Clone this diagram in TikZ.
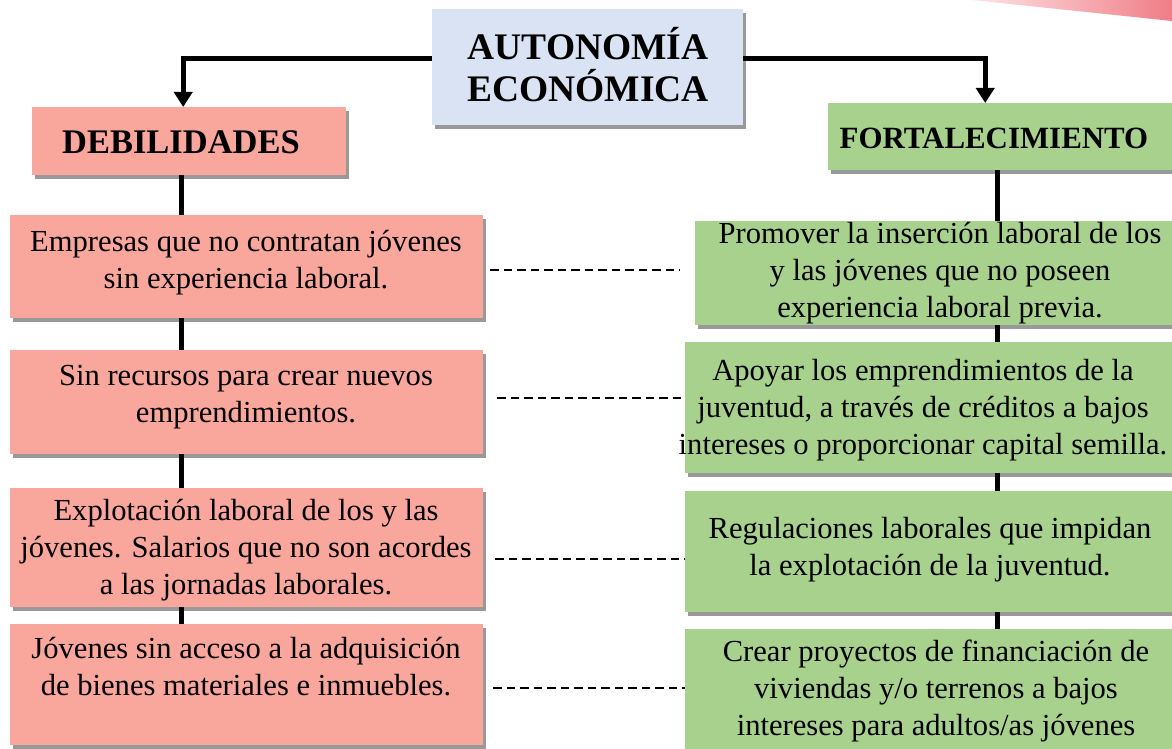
\documentclass[tikz,border=0pt]{standalone}
\usepackage{fontspec}
\usetikzlibrary{arrows.meta,shadows,backgrounds}

\newfontfamily\bodyfont{Liberation Serif}
\definecolor{debilpink}{RGB}{249,166,157}
\definecolor{fortgreen}{RGB}{169,209,142}
\definecolor{titleblue}{RGB}{218,227,243}

\tikzset{
  box/.style={anchor=north west, inner sep=0pt,
    drop shadow={shadow xshift=3pt, shadow yshift=-4pt, opacity=.4, fill=black}},
  debilbox/.style={box, fill=debilpink, minimum width=473pt},
  fortbox/.style={box, fill=fortgreen, minimum width=500pt},
  headtxt/.style={font=\bodyfont\fontsize{34.5}{40}\selectfont\bfseries, inner sep=0pt},
  bodytxt/.style={font=\bodyfont\fontsize{30.6}{37}\selectfont, align=center, inner sep=0pt},
  flow/.style={line width=5pt, -{Triangle[width=18pt,length=15pt]}},
  trunk/.style={line width=5pt},
  link/.style={line width=2.5pt, dash pattern=on 8.5pt off 5pt}
}

\begin{document}
\begin{tikzpicture}[x=1pt, y=-1pt]
  \useasboundingbox (0,0) rectangle (1172,749);

  % corner of a pink sheet, top right
  \shade[left color={rgb,255:red,253;green,228;blue,230},
         right color={rgb,255:red,240;green,125;blue,135}]
    (972,0) -- (1172,0) -- (1172,21) -- cycle;

  % title
  \node[box, fill=titleblue, minimum width=311pt, minimum height=116pt] (title) at (432,9) {};
  \node[font=\bodyfont\fontsize{37.5}{42}\selectfont\bfseries, align=center, inner sep=0pt]
    (titletxt) at (588,65) {AUTONOMÍA\\ECONÓMICA};

  % the two heads
  \node[box, fill=debilpink, minimum width=314pt, minimum height=68pt] (deb) at (32,107) {};
  \node[headtxt] (debtxt) at (181,142) {DEBILIDADES};
  \node[box, fill=fortgreen, minimum width=344pt, minimum height=67pt] (fort) at (828,103) {};
  \node[headtxt, font=\bodyfont\fontsize{30.9}{36}\selectfont\bfseries] (forttxt) at (994,138) {FORTALECIMIENTO};

  % debilidades
  \node[debilbox, minimum height=103pt] (d1) at (10,215) {};
  \node[bodytxt] (d1t) at (246,263) {Empresas que no contratan jóvenes\\sin experiencia laboral.};
  \node[debilbox, minimum height=104pt] (d2) at (10,350) {};
  \node[bodytxt] (d2t) at (246,397) {Sin recursos para crear nuevos\\emprendimientos.};
  \node[debilbox, minimum height=119pt] (d3) at (10,488) {};
  \node[bodytxt] (d3t) at (246,550) {Explotación laboral de los y las\\jóvenes. Salarios que no son acordes\\a las jornadas laborales.};
  \node[debilbox, minimum height=121pt] (d4) at (10,624) {};
  \node[bodytxt] (d4t) at (246,667) {Jóvenes sin acceso a la adquisición\\de bienes materiales e inmuebles.};

  % fortalecimiento
  \node[fortbox, minimum height=104pt] (r1) at (695,221) {};
  \node[bodytxt] (r1t) at (940,273) {Promover la inserción laboral de los\\y las jóvenes que no poseen\\experiencia laboral previa.};
  \node[fortbox, minimum height=131pt] (r2) at (685,342) {};
  \node[bodytxt] (r2t) at (923,410.5) {Apoyar los emprendimientos de la\\juventud, a través de créditos a bajos\\intereses o proporcionar capital semilla.};
  \node[fortbox, minimum height=121pt] (r3) at (685,491) {};
  \node[bodytxt] (r3t) at (930,550) {Regulaciones laborales que impidan\\la explotación de la juventud.};
  \node[fortbox, minimum height=130pt] (r4) at (685,629) {};
  \node[bodytxt] (r4t) at (936,691) {Crear proyectos de financiación de\\viviendas y/o terrenos a bajos\\intereses para adultos/as jóvenes};

  % arrows from the title
  \draw[flow] ([yshift=9pt]title.west) -| ([xshift=-6pt]deb.north);
  \draw[flow] ([yshift=9pt]title.east) -| ([xshift=-15pt]fort.north);

  \begin{pgfonlayer}{background}
    \fill[white] (0,0) rectangle (1172,749);
    % trunks behind the boxes
    \draw[trunk] ([xshift=-8pt]deb.south) -- ([xshift=-8pt]deb.south |- d4.north);
    \draw[trunk] ([xshift=-3pt]fort.south) -- ([xshift=-3pt]fort.south |- r4.north);

    % dashed links
    \draw[link, shorten >=15pt] ([xshift=7pt,yshift=-3.5pt]d1.east) coordinate (l1) -- (l1 -| r1.west);
    \draw[link] ([xshift=14pt,yshift=4pt]d2.east) coordinate (l2) -- (l2 -| r2.west);
    \draw[link] ([xshift=12pt,yshift=-11.5pt]d3.east) coordinate (l3) -- (l3 -| r3.west);
    \draw[link] ([xshift=10pt,yshift=-3.5pt]d4.east) coordinate (l4) -- (l4 -| r4.west);
  \end{pgfonlayer}
\end{tikzpicture}
\end{document}
